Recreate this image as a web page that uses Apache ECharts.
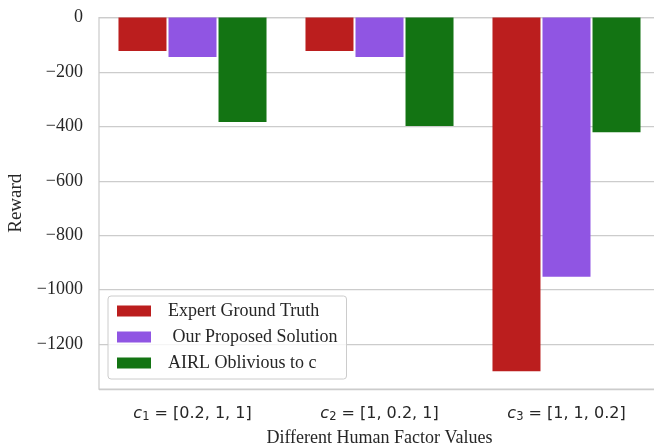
<!DOCTYPE html>
<html>
<head>
<meta charset="utf-8">
<script src="https://cdn.jsdelivr.net/npm/echarts@6/dist/echarts.min.js"></script>
<style>
  html, body { margin: 0; padding: 0; background: #ffffff; overflow: hidden; }
  /* the plot frame runs slightly past the right edge of the page */
  #chart { width: 661px; height: 448px; }
</style>
</head>
<body>
<div id="chart"></div>
<script>
// Human factor settings on the x axis (subscript index and vector)
const factorIndex = ['1', '2', '3'];
const factorVector = ['[0.2, 1, 1]', '[1, 0.2, 1]', '[1, 1, 0.2]'];
const categories = ['c1', 'c2', 'c3'];

// Reward per method
const expertGroundTruth = [-123, -123, -1300];
const ourProposedSolution = [-145, -145, -953];
const airlOblivious = [-384, -399, -422];

const seriesNames = ['Expert Ground Truth', ' Our Proposed Solution', 'AIRL Oblivious to c'];
const seriesColors = ['#bb1e1e', '#9055e3', '#137413'];

const serif = '"Liberation Serif", "Times New Roman", serif';
const sans = '"DejaVu Sans", sans-serif';
const ink = '#262626';

const chart = echarts.init(document.getElementById('chart'), null, { renderer: 'canvas' });

const seriesData = [expertGroundTruth, ourProposedSolution, airlOblivious];

chart.setOption({
  animation: false,
  backgroundColor: '#ffffff',
  grid: {
    left: 99, top: 17.5, width: 561, height: 371.5,
    show: true, borderColor: '#cccccc', borderWidth: 1.25,
    backgroundColor: '#ffffff', containLabel: false,
    outerBoundsMode: 'none'
  },
  legend: {
    orient: 'vertical',
    left: 108, top: 296,
    padding: [6, 9, 7, 9],
    itemWidth: 34, itemHeight: 11, itemGap: 8,
    icon: 'rect',
    backgroundColor: 'rgba(255,255,255,0.8)',
    borderColor: '#cccccc', borderWidth: 1, borderRadius: 3,
    textStyle: { fontFamily: serif, fontSize: 18, color: ink, lineHeight: 18, padding: [0, 0, 0, 12] },
    data: seriesNames
  },
  xAxis: {
    type: 'category',
    data: categories,
    axisLine: { show: false },
    axisTick: { show: false },
    splitLine: { show: false },
    axisLabel: {
      margin: 15,
      formatter: function (v, i) {
        return '{c|c}{s|' + factorIndex[i] + '}{n| = ' + factorVector[i] + '}';
      },
      rich: {
        c: { fontFamily: sans, fontStyle: 'italic', fontSize: 16, color: ink },
        s: { fontFamily: sans, fontSize: 11.5, color: ink, verticalAlign: 'bottom', padding: [7, 0, 0, 0] },
        n: { fontFamily: sans, fontSize: 16, color: ink }
      }
    },
    name: 'Different Human Factor Values',
    nameLocation: 'middle',
    nameGap: 40,
    nameTextStyle: { fontFamily: serif, fontSize: 18, color: ink }
  },
  yAxis: {
    type: 'value',
    min: -1365, max: 0,
    splitNumber: 7,
    axisLine: { show: false },
    axisTick: { show: false },
    splitLine: { show: true, lineStyle: { color: '#cccccc', width: 1.25 } },
    axisLabel: {
      showMinLabel: false,
      margin: 16,
      fontFamily: serif, fontSize: 18, color: ink,
      formatter: function (v) { return v < 0 ? '\u2212' + Math.abs(v) : String(v); }
    },
    name: 'Reward',
    nameLocation: 'middle',
    nameGap: 66,
    nameTextStyle: { fontFamily: serif, fontSize: 19, color: ink }
  },
  series: seriesData.map(function (d, i) {
    return {
      name: seriesNames[i],
      type: 'bar',
      data: d,
      barWidth: 48,
      barGap: '4.2%',
      itemStyle: { color: seriesColors[i] }
    };
  })
});
</script>
</body>
</html>
